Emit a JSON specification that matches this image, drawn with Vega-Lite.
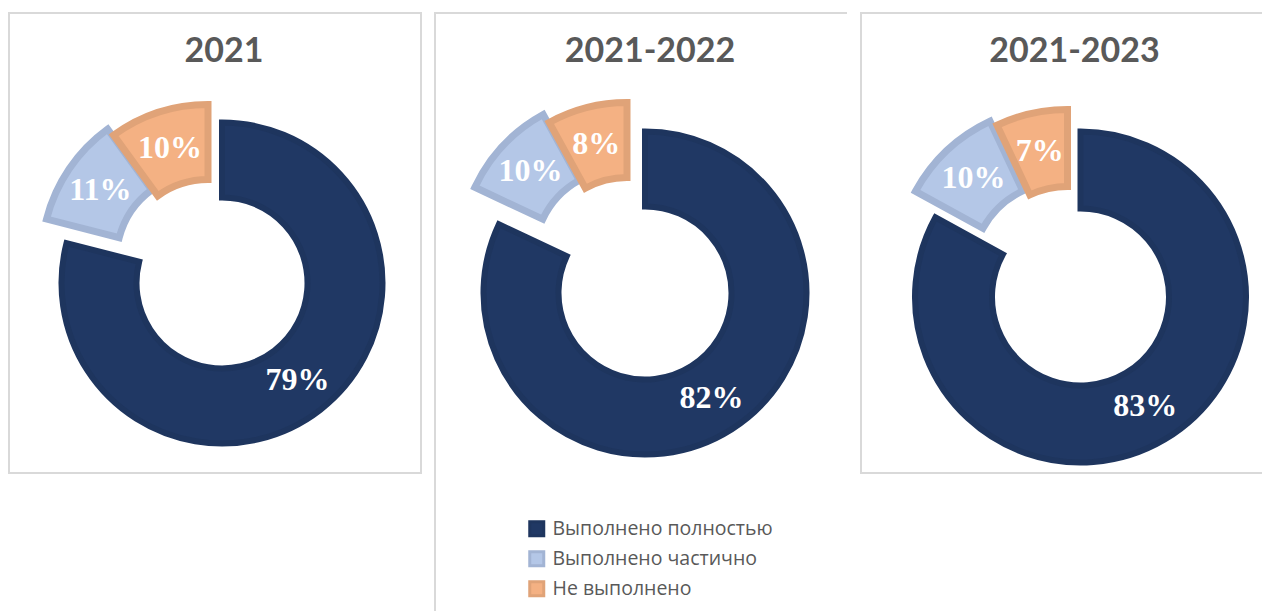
{
  "$schema": "https://vega.github.io/schema/vega-lite/v6.json",
  "padding": {"left": 8, "top": 12, "right": 0, "bottom": 0},
  "background": "white",
  "bounds": "flush",
  "datasets": {
    "d": [
      {"panel": "2021", "cat": "Выполнено полностью", "value": 79, "ord": 1},
      {"panel": "2021", "cat": "Выполнено частично", "value": 11, "ord": 2},
      {"panel": "2021", "cat": "Не выполнено", "value": 10, "ord": 3},
      {"panel": "2021-2022", "cat": "Выполнено полностью", "value": 82, "ord": 1},
      {"panel": "2021-2022", "cat": "Выполнено частично", "value": 10, "ord": 2},
      {"panel": "2021-2022", "cat": "Не выполнено", "value": 8, "ord": 3},
      {"panel": "2021-2023", "cat": "Выполнено полностью", "value": 83, "ord": 1},
      {"panel": "2021-2023", "cat": "Выполнено частично", "value": 10, "ord": 2},
      {"panel": "2021-2023", "cat": "Не выполнено", "value": 7, "ord": 3}
    ]
  },
  "spacing": 14,
  "resolve": {
    "scale": {"fill": "independent", "stroke": "independent"},
    "legend": {"fill": "independent", "stroke": "independent"}
  },
  "hconcat": [
    {
      "width": 412,
      "height": 460,
      "view": {"stroke": "#D9D9D9", "strokeWidth": 2},
      "title": {"text": "2021", "dx": 9, "offset": -56},
      "data": {"name": "d"},
      "transform": [
        {"filter": "datum.panel === '2021'"},
        {"stack": "value", "groupby": ["panel"], "sort": [{"field": "ord", "order": "ascending"}], "as": ["v0", "v1"]},
        {"calculate": "(datum.v0 + datum.v1) / 2", "as": "mid"},
        {"calculate": "datum.value + '%'", "as": "lab"}
      ],
      "layer": [
        {
          "transform": [{"filter": "datum.ord === 1"}],
          "mark": {"type": "arc", "outerRadius": 160.5, "innerRadius": 85.5, "strokeWidth": 6, "xOffset": 7, "yOffset": 40},
          "encoding": {
            "theta": {"field": "v0", "type": "quantitative", "scale": {"domain": [0, 100], "range": [0, 6.283185307]}},
            "theta2": {"field": "v1"},
            "fill": {"field": "cat", "type": "nominal", "scale": {"domain": ["Выполнено полностью", "Выполнено частично", "Не выполнено"], "range": ["#203864", "#B4C7E7", "#F4B183"]}, "legend": null},
            "stroke": {"field": "cat", "type": "nominal", "scale": {"domain": ["Выполнено полностью", "Выполнено частично", "Не выполнено"], "range": ["#1E355E", "#A2B4D4", "#E0A378"]}, "legend": null}
          }
        },
        {
          "transform": [{"filter": "datum.ord === 2"}],
          "mark": {"type": "arc", "outerRadius": 160.5, "innerRadius": 85.5, "strokeWidth": 7, "xOffset": -13, "yOffset": 16},
          "encoding": {
            "theta": {"field": "v0", "type": "quantitative"},
            "theta2": {"field": "v1"},
            "fill": {"field": "cat", "type": "nominal", "legend": null},
            "stroke": {"field": "cat", "type": "nominal", "legend": null}
          }
        },
        {
          "transform": [{"filter": "datum.ord === 3"}],
          "mark": {"type": "arc", "outerRadius": 160.5, "innerRadius": 85.5, "strokeWidth": 7, "xOffset": -7, "yOffset": 22},
          "encoding": {
            "theta": {"field": "v0", "type": "quantitative"},
            "theta2": {"field": "v1"},
            "fill": {"field": "cat", "type": "nominal", "legend": null},
            "stroke": {"field": "cat", "type": "nominal", "legend": null}
          }
        },
        {
          "transform": [{"filter": "datum.ord === 1"}],
          "mark": {"type": "text", "font": "Liberation Serif", "fontWeight": "bold", "fontSize": 32, "fill": "white", "baseline": "middle", "align": "center", "xOffset": 7, "yOffset": 40},
          "encoding": {"theta": {"field": "mid", "type": "quantitative"}, "radius": {"value": 123}, "text": {"field": "lab"}}
        },
        {
          "transform": [{"filter": "datum.ord === 2"}],
          "mark": {"type": "text", "font": "Liberation Serif", "fontWeight": "bold", "fontSize": 32, "fill": "white", "baseline": "middle", "align": "center", "xOffset": -13, "yOffset": 16},
          "encoding": {"theta": {"field": "mid", "type": "quantitative"}, "radius": {"value": 123}, "text": {"field": "lab"}}
        },
        {
          "transform": [{"filter": "datum.ord === 3"}],
          "mark": {"type": "text", "font": "Liberation Serif", "fontWeight": "bold", "fontSize": 32, "fill": "white", "baseline": "middle", "align": "center", "xOffset": -7, "yOffset": 22},
          "encoding": {"theta": {"field": "mid", "type": "quantitative"}, "radius": {"value": 123}, "text": {"field": "lab"}}
        }
      ]
    },
    {
      "width": 412,
      "height": 598,
      "view": {"stroke": "#D9D9D9", "strokeWidth": 2, "strokeDash": [412, 1010, 598, 10]},
      "title": {"text": "2021-2022", "dx": 9, "offset": -56},
      "data": {"name": "d"},
      "transform": [
        {"filter": "datum.panel === '2021-2022'"},
        {"stack": "value", "groupby": ["panel"], "sort": [{"field": "ord", "order": "ascending"}], "as": ["v0", "v1"]},
        {"calculate": "(datum.v0 + datum.v1) / 2", "as": "mid"},
        {"calculate": "datum.value + '%'", "as": "lab"}
      ],
      "layer": [
        {
          "transform": [{"filter": "datum.ord === 1"}],
          "mark": {"type": "arc", "outerRadius": 161.5, "innerRadius": 86.5, "strokeWidth": 6, "xOffset": 4, "yOffset": -19},
          "encoding": {
            "theta": {"field": "v0", "type": "quantitative", "scale": {"domain": [0, 100], "range": [0, 6.283185307]}},
            "theta2": {"field": "v1"},
            "fill": {"field": "cat", "type": "nominal", "title": null, "scale": {"domain": ["Выполнено полностью", "Выполнено частично", "Не выполнено"], "range": ["#203864", "#B4C7E7", "#F4B183"]},
              "legend": {"orient": "none", "legendX": 92, "legendY": 506, "symbolType": "square", "symbolSize": 196, "symbolStrokeWidth": 3, "labelFont": "Open Sans", "labelFontSize": 19.5, "labelColor": "#595959", "labelOffset": 6, "labelLimit": 0, "rowPadding": 3, "title": null}},
            "stroke": {"field": "cat", "type": "nominal", "title": null, "scale": {"domain": ["Выполнено полностью", "Выполнено частично", "Не выполнено"], "range": ["#1E355E", "#A2B4D4", "#E0A378"]},
              "legend": {"orient": "none", "legendX": 92, "legendY": 506, "symbolType": "square", "symbolSize": 196, "symbolStrokeWidth": 3, "labelFont": "Open Sans", "labelFontSize": 19.5, "labelColor": "#595959", "labelOffset": 6, "labelLimit": 0, "rowPadding": 3, "title": null}}
          }
        },
        {
          "transform": [{"filter": "datum.ord === 2"}],
          "mark": {"type": "arc", "outerRadius": 161.5, "innerRadius": 86.5, "strokeWidth": 7, "xOffset": -20, "yOffset": -56},
          "encoding": {
            "theta": {"field": "v0", "type": "quantitative"},
            "theta2": {"field": "v1"},
            "fill": {"field": "cat", "type": "nominal", "title": null},
            "stroke": {"field": "cat", "type": "nominal", "title": null}
          }
        },
        {
          "transform": [{"filter": "datum.ord === 3"}],
          "mark": {"type": "arc", "outerRadius": 161.5, "innerRadius": 86.5, "strokeWidth": 7, "xOffset": -14, "yOffset": -48},
          "encoding": {
            "theta": {"field": "v0", "type": "quantitative"},
            "theta2": {"field": "v1"},
            "fill": {"field": "cat", "type": "nominal", "title": null},
            "stroke": {"field": "cat", "type": "nominal", "title": null}
          }
        },
        {
          "transform": [{"filter": "datum.ord === 1"}],
          "mark": {"type": "text", "font": "Liberation Serif", "fontWeight": "bold", "fontSize": 32, "fill": "white", "baseline": "middle", "align": "center", "xOffset": 4, "yOffset": -19},
          "encoding": {"theta": {"field": "mid", "type": "quantitative"}, "radius": {"value": 124}, "text": {"field": "lab"}}
        },
        {
          "transform": [{"filter": "datum.ord === 2"}],
          "mark": {"type": "text", "font": "Liberation Serif", "fontWeight": "bold", "fontSize": 32, "fill": "white", "baseline": "middle", "align": "center", "xOffset": -20, "yOffset": -56},
          "encoding": {"theta": {"field": "mid", "type": "quantitative"}, "radius": {"value": 124}, "text": {"field": "lab"}}
        },
        {
          "transform": [{"filter": "datum.ord === 3"}],
          "mark": {"type": "text", "font": "Liberation Serif", "fontWeight": "bold", "fontSize": 32, "fill": "white", "baseline": "middle", "align": "center", "xOffset": -14, "yOffset": -48},
          "encoding": {"theta": {"field": "mid", "type": "quantitative"}, "radius": {"value": 124}, "text": {"field": "lab"}}
        }
      ]
    },
    {
      "width": 401,
      "height": 460,
      "view": {"stroke": "#D9D9D9", "strokeWidth": 2, "strokeDash": [401, 460, 861, 10]},
      "title": {"text": "2021-2023", "dx": 13, "offset": -56},
      "data": {"name": "d"},
      "transform": [
        {"filter": "datum.panel === '2021-2023'"},
        {"stack": "value", "groupby": ["panel"], "sort": [{"field": "ord", "order": "ascending"}], "as": ["v0", "v1"]},
        {"calculate": "(datum.v0 + datum.v1) / 2", "as": "mid"},
        {"calculate": "datum.value + '%'", "as": "lab"}
      ],
      "layer": [
        {
          "transform": [{"filter": "datum.ord === 1"}],
          "mark": {"type": "arc", "outerRadius": 165.5, "innerRadius": 88.5, "strokeWidth": 6, "xOffset": 19, "yOffset": 54},
          "encoding": {
            "theta": {"field": "v0", "type": "quantitative", "scale": {"domain": [0, 100], "range": [0, 6.283185307]}},
            "theta2": {"field": "v1"},
            "fill": {"field": "cat", "type": "nominal", "scale": {"domain": ["Выполнено полностью", "Выполнено частично", "Не выполнено"], "range": ["#203864", "#B4C7E7", "#F4B183"]}, "legend": null},
            "stroke": {"field": "cat", "type": "nominal", "scale": {"domain": ["Выполнено полностью", "Выполнено частично", "Не выполнено"], "range": ["#1E355E", "#A2B4D4", "#E0A378"]}, "legend": null}
          }
        },
        {
          "transform": [{"filter": "datum.ord === 2"}],
          "mark": {"type": "arc", "outerRadius": 165.5, "innerRadius": 88.5, "strokeWidth": 7, "xOffset": -1, "yOffset": 28},
          "encoding": {
            "theta": {"field": "v0", "type": "quantitative"},
            "theta2": {"field": "v1"},
            "fill": {"field": "cat", "type": "nominal", "legend": null},
            "stroke": {"field": "cat", "type": "nominal", "legend": null}
          }
        },
        {
          "transform": [{"filter": "datum.ord === 3"}],
          "mark": {"type": "arc", "outerRadius": 165.5, "innerRadius": 88.5, "strokeWidth": 7, "xOffset": 6, "yOffset": 32},
          "encoding": {
            "theta": {"field": "v0", "type": "quantitative"},
            "theta2": {"field": "v1"},
            "fill": {"field": "cat", "type": "nominal", "legend": null},
            "stroke": {"field": "cat", "type": "nominal", "legend": null}
          }
        },
        {
          "transform": [{"filter": "datum.ord === 1"}],
          "mark": {"type": "text", "font": "Liberation Serif", "fontWeight": "bold", "fontSize": 32, "fill": "white", "baseline": "middle", "align": "center", "xOffset": 19, "yOffset": 54},
          "encoding": {"theta": {"field": "mid", "type": "quantitative"}, "radius": {"value": 127}, "text": {"field": "lab"}}
        },
        {
          "transform": [{"filter": "datum.ord === 2"}],
          "mark": {"type": "text", "font": "Liberation Serif", "fontWeight": "bold", "fontSize": 32, "fill": "white", "baseline": "middle", "align": "center", "xOffset": -1, "yOffset": 28},
          "encoding": {"theta": {"field": "mid", "type": "quantitative"}, "radius": {"value": 127}, "text": {"field": "lab"}}
        },
        {
          "transform": [{"filter": "datum.ord === 3"}],
          "mark": {"type": "text", "font": "Liberation Serif", "fontWeight": "bold", "fontSize": 32, "fill": "white", "baseline": "middle", "align": "center", "xOffset": 6, "yOffset": 32},
          "encoding": {"theta": {"field": "mid", "type": "quantitative"}, "radius": {"value": 127}, "text": {"field": "lab"}}
        }
      ]
    }
  ],
  "config": {
    "view": {"stroke": null},
    "title": {"font": "Lato", "fontWeight": "bold", "fontSize": 34, "color": "#595959", "anchor": "middle", "baseline": "alphabetic"}
  }
}
